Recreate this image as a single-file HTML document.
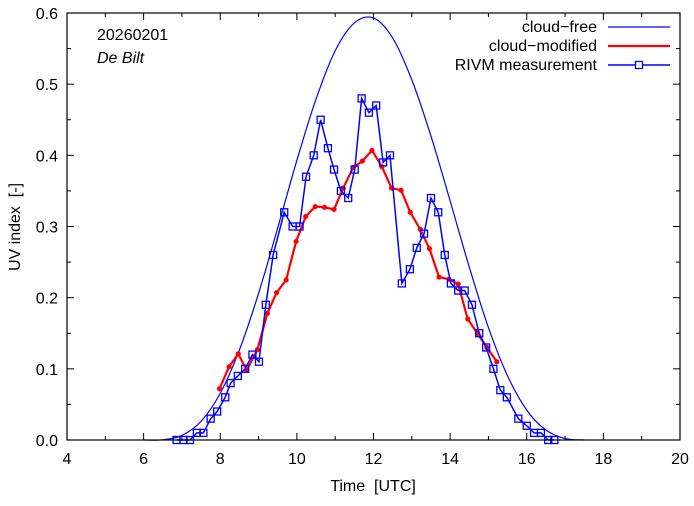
<!DOCTYPE html>
<html><head><meta charset="utf-8"><style>
html,body{margin:0;padding:0;background:#fff}
svg text{font-family:"Liberation Sans",sans-serif;fill:#000}
</style></head><body>
<svg id="chart" width="694" height="501" xmlns="http://www.w3.org/2000/svg"></svg>
<script>
const xTicks=[4,6,8,10,12,14,16,18,20];
const yTicks=[0.0,0.1,0.2,0.3,0.4,0.5,0.6];
const clearTimes=[6.0,6.5,7.0,7.5,8.0,8.5,9.0,9.5,10.0,10.5,11.0,11.5,12.0,12.5,13.0,13.5,14.0,14.5,15.0,15.5,16.0,16.5,17.0,17.5];
const clearVals=[0,0.0003,0.0064,0.0263,0.0657,0.1265,0.206,0.298,0.393,0.479,0.547,0.586,0.593,0.565,0.506,0.427,0.336,0.243,0.158,0.090,0.042,0.014,0.002,0];
const cloudTimes=[7.98,8.23,8.47,8.69,8.97,9.23,9.47,9.72,9.98,10.23,10.48,10.72,10.97,11.21,11.47,11.71,11.96,12.22,12.47,12.72,12.96,13.22,13.46,13.71,13.97,14.21,14.46,14.71,14.96,15.22];
const cloudVals=[0.072,0.103,0.121,0.098,0.127,0.178,0.207,0.225,0.279,0.314,0.328,0.327,0.324,0.354,0.383,0.392,0.407,0.384,0.354,0.351,0.320,0.296,0.269,0.229,0.226,0.219,0.170,0.150,0.130,0.110];
const measTimes=[6.86,7.04,7.21,7.39,7.56,7.75,7.92,8.13,8.27,8.46,8.65,8.84,9.01,9.19,9.38,9.67,9.89,10.07,10.24,10.44,10.62,10.81,10.97,11.15,11.34,11.51,11.69,11.88,12.07,12.25,12.43,12.74,12.95,13.13,13.32,13.50,13.69,13.86,14.02,14.21,14.38,14.57,14.76,14.94,15.13,15.31,15.48,15.78,16.00,16.19,16.37,16.56,16.72];
const measVals=[0,0,0,0.01,0.01,0.03,0.04,0.06,0.08,0.09,0.10,0.12,0.11,0.19,0.26,0.32,0.30,0.30,0.37,0.40,0.45,0.41,0.38,0.35,0.34,0.38,0.48,0.46,0.47,0.39,0.40,0.22,0.24,0.27,0.29,0.34,0.32,0.26,0.22,0.21,0.21,0.19,0.15,0.13,0.10,0.07,0.06,0.03,0.02,0.01,0.01,0,0];

const L=67,R=680,T=13,B=440;
const X=v=>L+(v-4)/16*(R-L);
const Y=v=>B-v/0.6*(B-T);
const svg=document.getElementById('chart');
const NS='http://www.w3.org/2000/svg';
function mk(tag,attrs,parent){const e=document.createElementNS(NS,tag);for(const k in attrs)e.setAttribute(k,attrs[k]);(parent||svg).appendChild(e);return e;}

for(let h=4;h<=20;h++){
  const len=(h%2===0)?7:4;const x=X(h);
  const t1=mk('line',{x1:x,y1:B,x2:x,y2:B-len,stroke:'#000','stroke-width':1});
  
  
  const t2=mk('line',{x1:x,y1:T,x2:x,y2:T+len,stroke:'#000','stroke-width':1});
  
  
}
for(let i=0;i<=12;i++){
  const v=i*0.05,len=(i%2===0)?7:4,y=Y(v);
  const t1=mk('line',{x1:L,y1:y,x2:L+len,y2:y,stroke:'#000','stroke-width':1});
  
  
  const t2=mk('line',{x1:R,y1:y,x2:R-len,y2:y,stroke:'#000','stroke-width':1});
  
  
}
xTicks.forEach(v=>{
  const t=mk('text',{x:X(v),y:B+24,'text-anchor':'middle','font-size':16});
  t.textContent=String(v);
  
  
});
yTicks.forEach(v=>{
  const t=mk('text',{x:L-9,y:Y(v)+6,'text-anchor':'end','font-size':16});
  t.textContent=v.toFixed(1);
  
  
});

function smooth(xs,ys){
  const p=xs.map((t,i)=>[X(t),Y(ys[i])]);
  let d='M'+p[0][0]+','+p[0][1];
  for(let i=0;i<p.length-1;i++){
    const p0=p[Math.max(0,i-1)],p1=p[i],p2=p[i+1],p3=p[Math.min(p.length-1,i+2)];
    const c1=[p1[0]+(p2[0]-p0[0])/6,p1[1]+(p2[1]-p0[1])/6];
    const c2=[p2[0]-(p3[0]-p1[0])/6,p2[1]-(p3[1]-p1[1])/6];
    d+=' C'+c1+' '+c2+' '+p2;
  }
  return d;
}
const cf=mk('path',{d:smooth(clearTimes,clearVals),fill:'none',stroke:'#0000ff','stroke-width':1.2});



const cm=mk('polyline',{points:cloudTimes.map((t,i)=>X(t)+','+Y(cloudVals[i])).join(' '),fill:'none',stroke:'#ff0000','stroke-width':2.2});


cloudTimes.forEach((t,i)=>{
  const c=mk('circle',{cx:X(t),cy:Y(cloudVals[i]),r:2.6,fill:'#ff0000'});
  
  
});

const ml=mk('polyline',{points:measTimes.map((t,i)=>X(t)+','+Y(measVals[i])).join(' '),fill:'none',stroke:'#0000ff','stroke-width':1.5});


measTimes.forEach((t,i)=>{
  const r=mk('rect',{x:X(t)-3.5,y:Y(measVals[i])-3.5,width:7,height:7,fill:'none',stroke:'#0000ff','stroke-width':1.3});
  
  
});

const fr=mk('rect',{x:L,y:T,width:R-L,height:B-T,fill:'none',stroke:'#000','stroke-width':1.2});


</script>
<svg style="position:absolute;left:0;top:0" width="694" height="501" xmlns="http://www.w3.org/2000/svg">
<text x="373" y="491" text-anchor="middle" font-size="16">Time&#160;&#160;[UTC]</text>
<text x="0" y="0" transform="translate(20,227) rotate(-90)" text-anchor="middle" font-size="16">UV index&#160;&#160;[-]</text>
<text x="97" y="40" font-size="16">20260201</text>
<text x="97" y="63" font-size="16" font-style="italic">De Bilt</text>
<g>
<text x="597" y="32" text-anchor="end" font-size="16">cloud−free</text>
<line x1="608" y1="27" x2="670" y2="27" stroke="#0000ff" stroke-width="1.2"/>
<text x="597" y="51" text-anchor="end" font-size="16">cloud−modified</text>
<line x1="608" y1="46" x2="670" y2="46" stroke="#ff0000" stroke-width="2.2"/>
<text x="597" y="70" text-anchor="end" font-size="16">RIVM measurement</text>
<line x1="608" y1="65" x2="670" y2="65" stroke="#0000ff" stroke-width="1.5"/>
<rect x="635.5" y="61.5" width="7" height="7" fill="#fff" stroke="#0000ff" stroke-width="1.3"/>
</g>
</svg>
</body></html>
